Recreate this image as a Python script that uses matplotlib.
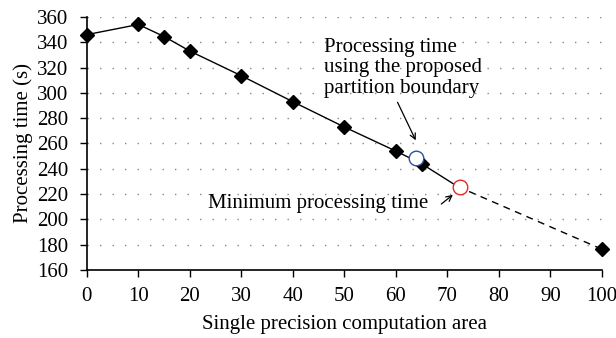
import numpy as np
import matplotlib.pyplot as plt

plt.rcParams['font.family'] = ['Liberation Serif', 'DejaVu Serif']

# measured processing times
area = [0, 10, 15, 20, 30, 40, 50, 60, 65, 72]
ptime = [346, 354, 344.5, 333, 313.5, 293, 273, 254, 244, 226]
# extrapolated part (dashed)
area_ext = [72, 100]
ptime_ext = [226, 176.5]
# highlighted points
proposed = (64, 248.5)
minimum = (72.5, 225.5)

fs = 15

fig = plt.figure(figsize=(6.16, 3.38), dpi=100)
ax = fig.add_axes([0.141, 0.201, 0.836, 0.749])

ax.plot(area_ext, ptime_ext, 'k--', lw=1, dashes=(5, 4))
ax.plot(area[:-1], ptime[:-1], 'k-', lw=1, marker='D', markersize=7, clip_on=False, zorder=3)
ax.plot(area[-2:], ptime[-2:], 'k-', lw=1)
ax.plot(area_ext[1], ptime_ext[1], 'kD', markersize=7, clip_on=False, zorder=3)
ax.plot(*proposed, 'o', mfc='white', mec='#2b4fa8', markersize=10.5, mew=1, zorder=4)
ax.plot(*minimum, 'o', mfc='white', mec='#e8262a', markersize=10.5, mew=1, zorder=4)

ax.text(46, 296, 'Processing time\nusing the proposed\npartition boundary',
        fontsize=fs, ha='left', va='bottom', linespacing=1.12)
ax.annotate('', xy=(64.1, 260.5), xytext=(60.1, 294.5),
            arrowprops=dict(arrowstyle='->', color='k', lw=0.9))
ax.text(66.2, 212.5, 'Minimum processing time', fontsize=fs, ha='right', va='center')
ax.annotate('', xy=(71.5, 220.8), xytext=(68.4, 210.8),
            arrowprops=dict(arrowstyle='->', color='k', lw=0.9))

ax.set_xlim(0, 100)
ax.set_ylim(160, 360)
ax.set_xticks(np.arange(0, 101, 10))
ax.set_yticks(np.arange(160, 361, 20))
ax.tick_params(labelsize=fs, length=5, width=1, color='k')
ax.tick_params(axis='x', pad=7.5)
ax.tick_params(axis='y', pad=8.5)
ax.yaxis.grid(True, linestyle=(0, (1, 8)), color='#888888', lw=1)
ax.set_axisbelow(True)
for s in ['top', 'right']:
    ax.spines[s].set_visible(False)
for s in ['left', 'bottom']:
    ax.spines[s].set_linewidth(1.2)

ax.set_xlabel('Single precision computation area', fontsize=fs, labelpad=6)
ax.set_ylabel('Processing time (s)', fontsize=fs, labelpad=3)

fig.savefig('out.png', dpi=100)
